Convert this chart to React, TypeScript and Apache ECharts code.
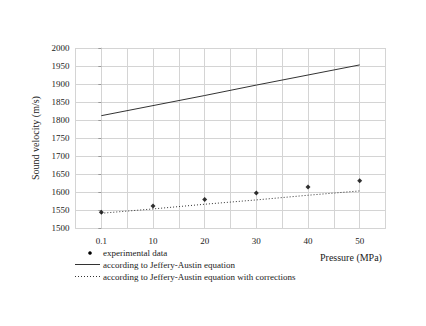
import React, { useEffect, useRef } from "react";
import * as echarts from "echarts";

const categories = ["0.1", "10", "20", "30", "40", "50"];
const experimental = [1544, 1561, 1579, 1597, 1614, 1631];
const jefferyAustin = [1812, 1840, 1868, 1897, 1925, 1953];
const jefferyAustinCorrected = [1541, 1553, 1566, 1578, 1591, 1603];
const legendLabels = [
  "experimental data",
  "according to Jeffery-Austin equation",
  "according to Jeffery-Austin equation with corrections",
];

const FONT = "'Liberation Serif', 'Times New Roman', serif";
const TEXT = "#222";
const GRID = "#d4d4d4";

export default function App() {
  const ref = useRef<HTMLDivElement>(null);
  useEffect(() => {
    document.body.style.margin = "0";
    const chart = echarts.init(ref.current!, null, { renderer: "svg" });
    const toXY = (arr: number[]) => arr.map((v, i) => [i, v]);
    chart.setOption({
      animation: false,
      backgroundColor: "#fff",
      grid: { left: 75.5, right: 40.5, top: 48, bottom: 98, containLabel: false },
      xAxis: {
        type: "value",
        min: -0.5,
        max: 5.5,
        interval: 0.5,
        axisLine: { show: true, lineStyle: { color: GRID } },
        axisTick: { show: false },
        splitLine: { show: true, lineStyle: { color: GRID, width: 1 } },
        axisLabel: {
          color: TEXT,
          fontFamily: FONT,
          fontSize: 9,
          margin: 8,
          showMinLabel: true,
          showMaxLabel: true,
          formatter: (v: number) => (Number.isInteger(v) && v >= 0 && v < categories.length ? categories[v] : ""),
        },
      },
      yAxis: {
        type: "value",
        min: 1500,
        max: 2000,
        interval: 50,
        name: "Sound velocity (m/s)",
        nameLocation: "middle",
        nameRotate: 90,
        nameGap: 33,
        nameTextStyle: { color: TEXT, fontFamily: FONT, fontSize: 10 },
        axisLine: { show: true, lineStyle: { color: GRID } },
        axisTick: { show: true, length: 3, lineStyle: { color: "#999" } },
        splitLine: { show: true, lineStyle: { color: GRID, width: 1 } },
        axisLabel: {
          color: TEXT,
          fontFamily: FONT,
          fontSize: 9,
          margin: 6,
          formatter: (v: number) => String(v),
        },
      },
      series: [
        {
          name: legendLabels[1],
          type: "line",
          data: toXY(jefferyAustin),
          symbol: "none",
          lineStyle: { color: "#333", width: 1 },
          z: 2,
        },
        {
          name: legendLabels[2],
          type: "line",
          data: toXY(jefferyAustinCorrected),
          symbol: "none",
          lineStyle: { color: "#333", width: 1, type: [1, 2] },
          z: 2,
        },
        {
          name: legendLabels[0],
          type: "scatter",
          data: toXY(experimental),
          symbol: "diamond",
          symbolSize: 5,
          itemStyle: { color: "#000" },
          z: 3,
        },
      ],
      graphic: [
        {
          type: "text",
          left: 320,
          top: 252,
          style: { text: "Pressure (MPa)", font: `10px ${FONT}`, fill: TEXT },
        },
        {
          type: "circle",
          shape: { cx: 90, cy: 253, r: 1.8 },
          style: { fill: "#000" },
        },
        {
          type: "text",
          x: 103,
          y: 253,
          style: { text: legendLabels[0], font: `9px ${FONT}`, fill: TEXT, verticalAlign: "middle" },
        },
        {
          type: "line",
          shape: { x1: 75, y1: 264.5, x2: 100, y2: 264.5 },
          style: { stroke: "#333", lineWidth: 1 },
        },
        {
          type: "text",
          x: 103,
          y: 264.5,
          style: { text: legendLabels[1], font: `9px ${FONT}`, fill: TEXT, verticalAlign: "middle" },
        },
        {
          type: "line",
          shape: { x1: 75, y1: 276.5, x2: 100, y2: 276.5 },
          style: { stroke: "#333", lineWidth: 1, lineDash: [1, 2] },
        },
        {
          type: "text",
          x: 103,
          y: 276.5,
          style: { text: legendLabels[2], font: `9px ${FONT}`, fill: TEXT, verticalAlign: "middle" },
        },
      ],
    });
    return () => chart.dispose();
  }, []);
  return <div ref={ref} style={{ position: "absolute", left: 0, top: 0, width: 426, height: 326 }} />;
}
